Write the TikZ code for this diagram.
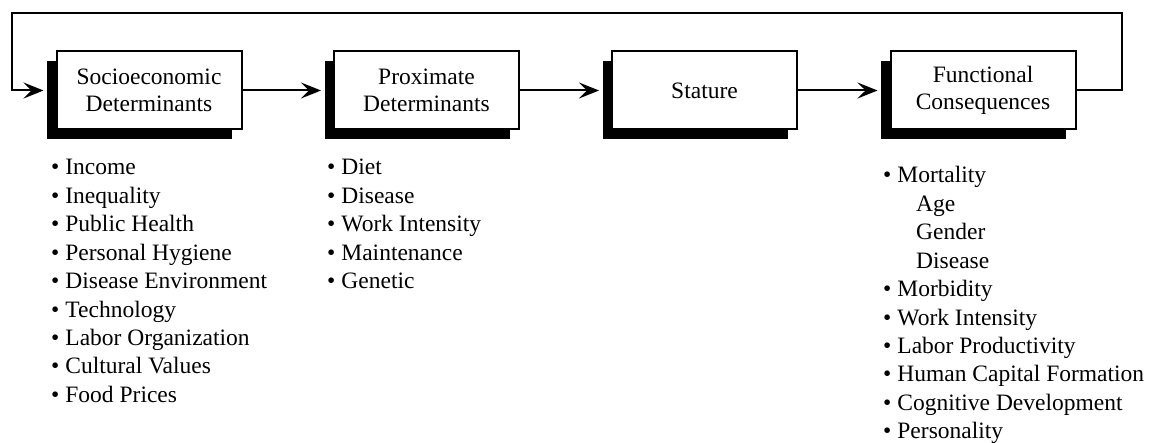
\documentclass[tikz,border=0pt]{standalone}
\usepackage{fontspec}
\setmainfont{Liberation Serif}
\usetikzlibrary{arrows.meta,shadows}
\newcommand{\lstfont}{\fontsize{23.5}{28.4}\selectfont}
\tikzset{
  box/.style={draw, line width=2pt, fill=white, minimum width=185pt, minimum height=78pt,
    align=center, inner sep=0pt, font=\fontsize{23.5}{27}\selectfont,
    drop shadow={shadow xshift=-9.5pt, shadow yshift=-9.5pt, fill=black, opacity=1}},
  conn/.style={line width=2pt, -{Stealth[length=20pt,width=16pt,inset=8pt]}, shorten >=12pt},
  item/.style={anchor=base west, inner sep=0pt, font=\lstfont},
}
\begin{document}
\begin{tikzpicture}[x=1pt,y=-1pt]
\useasboundingbox (0,0) rectangle (1155,443);
\node[box] (b1) at (149,90.5) {Socioeconomic\\Determinants};
\node[box] (b2) at (426.5,90.5) {Proximate\\Determinants};
\node[box] (b3) at (704.5,90.5) {Stature};
\node[box] (b4) at (983,90.5) {Functional\\Consequences};
\draw[conn] (b1.east) -- (b2.west);
\draw[conn] (b2.east) -- (b3.west);
\draw[conn] (b3.east) -- (b4.west);
\coordinate (fr) at (1122,13);
\coordinate (fl) at (12,13);
\draw[conn] (b4.east) -| (fr) -- (fl) |- (b1.west);
% left list
\foreach \t [count=\i] in {Income,Inequality,Public Health,Personal Hygiene,Disease Environment,Technology,Labor Organization,Cultural Values,Food Prices}
  \node[item] (l\i) at (51,{175+(\i-1)*28.4}) {\textbullet\hspace{6pt}\t};
% middle list
\foreach \t [count=\i] in {Diet,Disease,Work Intensity,Maintenance,Genetic}
  \node[item] (m\i) at (327,{175+(\i-1)*28.4}) {\textbullet\hspace{6pt}\t};
% right list
\node[item] (r1) at (883,183) {\textbullet\hspace{6pt}Mortality};
\foreach \t [count=\i from 2] in {Age,Gender,Disease}
  \node[item] (r\i) at (916,{183+(\i-1)*28.4}) {\t};
\foreach \t [count=\i from 5] in {Morbidity,Work Intensity,Labor Productivity,Human Capital Formation,Cognitive Development,Personality}
  \node[item] (r\i) at (883,{183+(\i-1)*28.4}) {\textbullet\hspace{6pt}\t};
\end{tikzpicture}
\end{document}
